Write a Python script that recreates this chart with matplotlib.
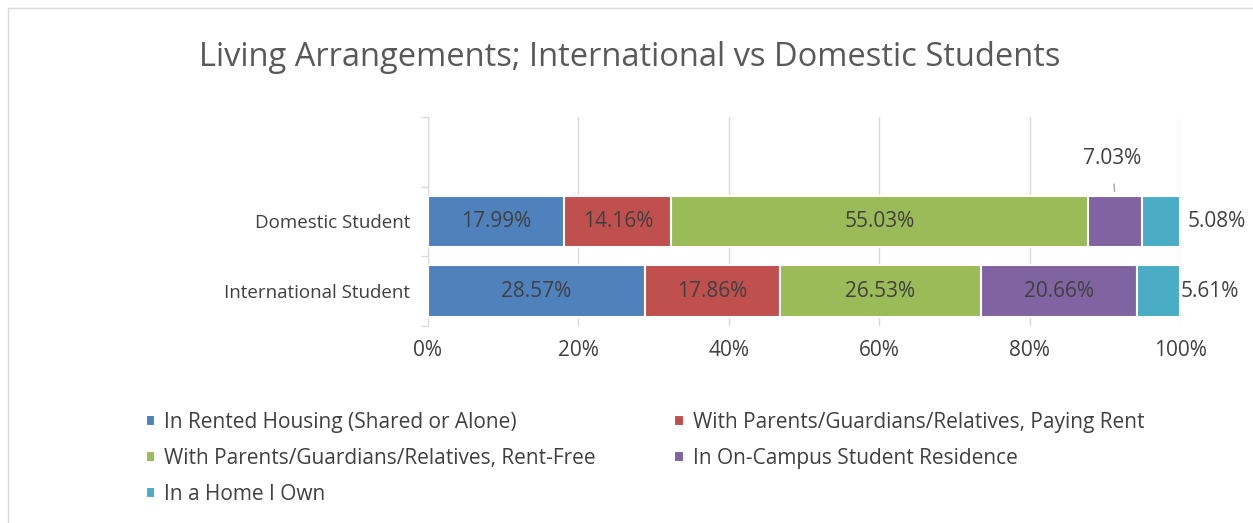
import matplotlib
matplotlib.use("Agg")
import matplotlib.pyplot as plt
import numpy as np
from matplotlib.patches import Rectangle

# data
categories = ["International Student", "Domestic Student", ""]
series = [
    "In Rented Housing (Shared or Alone)",
    "With Parents/Guardians/Relatives, Paying Rent",
    "With Parents/Guardians/Relatives, Rent-Free",
    "In On-Campus Student Residence",
    "In a Home I Own",
]
international = [28.57, 17.86, 26.53, 20.66, 5.61]
domestic = [17.99, 14.16, 55.03, 7.03, 5.08]
colors = ["#4F81BD", "#C0504D", "#9BBB59", "#8064A2", "#4BACC6"]
xticks = [0, 20, 40, 60, 80, 100]

W, H = 1253, 523
plt.rcParams["font.family"] = ["Open Sans", "DejaVu Sans"]
TXT = "#404040"
LBL = 15

fig = plt.figure(figsize=(W / 100, H / 100), dpi=100)
fig.patches.append(Rectangle((8 / W, -0.1), 1.2, 1 - 8 / H + 0.1, transform=fig.transFigure,
                             fill=False, edgecolor="#D9D9D9", linewidth=1.0))

ax = fig.add_axes([428 / W, 1 - 326 / H, 752 / W, 209 / H])

rows = [np.array(international), np.array(domestic)]
shares = [100 * r / r.sum() for r in rows]
ypos = [0, 1]
bar_h = 0.74

for i, name in enumerate(series):
    widths = [s[i] for s in shares]
    lefts = [s[:i].sum() for s in shares]
    ax.barh(ypos, widths, left=lefts, height=bar_h, color=colors[i],
            edgecolor="white", linewidth=1.5, label=name, zorder=3)

for y, raw, s in zip(ypos, rows, shares):
    cum = np.concatenate([[0], np.cumsum(s)])
    for i, v in enumerate(raw):
        cx = (cum[i] + cum[i + 1]) / 2
        label = f"{v:.2f}%"
        if i == 4:
            ax.annotate(label, (100, y), xytext=(0.5 if y == 0 else 5.5, 0), textcoords="offset points",
                        ha="left", va="center", fontsize=LBL, color=TXT)
        elif y == 1 and i == 3:
            ax.annotate(label, (cx, y + bar_h / 2), xytext=(-2, 27), textcoords="offset points",
                        ha="center", va="center", fontsize=LBL, color=TXT,
                        arrowprops=dict(arrowstyle="-", color="#A6A6A6", lw=1,
                                        shrinkA=9, shrinkB=3))
        else:
            ax.text(cx, y, label, ha="center", va="center", fontsize=LBL, color=TXT, zorder=4)

ax.set_xlim(0, 100)
ax.set_ylim(-0.5, 2.5)
ax.set_xticks(xticks)
ax.set_xticklabels([f"{t}%" for t in xticks], fontsize=LBL, color=TXT)
ax.set_yticks([0, 1])
ax.set_yticklabels(categories[:2], fontsize=13.5, color=TXT)
ax.set_yticks([-0.5, 0.5, 1.5, 2.5], minor=True)
ax.tick_params(axis="y", which="major", length=0, pad=13)
ax.tick_params(axis="y", which="minor", length=5, color="#D9D9D9", width=1)
ax.tick_params(axis="x", length=0, pad=10)
ax.grid(axis="x", color="#D9D9D9", linewidth=1, zorder=0)
for side in ["top", "right", "bottom"]:
    ax.spines[side].set_visible(False)
ax.spines["left"].set_color("#D9D9D9")

fig.text(630 / W, 1 - 57 / H, "Living Arrangements; International vs Domestic Students",
         ha="center", va="center", fontsize=23.5, color="#595959")

handles, labels = ax.get_legend_handles_labels()
order = [0, 2, 4, 1, 3]
fig.legend([handles[k] for k in order], [labels[k] for k in order], ncol=2,
           loc="upper left", bbox_to_anchor=(127 / W, 1 - 393 / H), frameon=False,
           fontsize=15, labelcolor=TXT, handlelength=0.45, handleheight=0.45,
           handletextpad=0.45, columnspacing=3.75, labelspacing=0.72)

fig.savefig("out.png", dpi=100)
